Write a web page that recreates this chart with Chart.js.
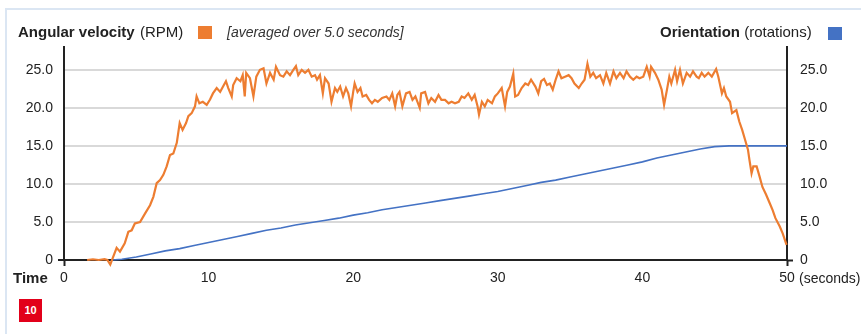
<!DOCTYPE html>
<html>
<head>
<meta charset="utf-8">
<script src="https://cdn.jsdelivr.net/npm/chart.js@4.4.1/dist/chart.umd.min.js"></script>
<style>
  body { margin: 0; background: #fff; font-family: "Liberation Sans", Arial, sans-serif; color: #222; }
  #wrap { position: relative; width: 861px; height: 334px; overflow: hidden; }
  #card { position: absolute; left: 5px; top: 8px; right: -4px; bottom: -4px; border-top: 2px solid #dbe6f3; border-left: 2px solid #dbe6f3; }
  canvas { position: absolute; left: 0; top: 0; }
  .t { position: absolute; white-space: pre; line-height: 15px; font-size: 15px; }
  .b { font-weight: bold; }
  .sq { position: absolute; width: 14px; height: 13px; }
  #badge { position: absolute; left: 19px; top: 299px; width: 23px; height: 23px; background: #e2001a; color: #fff; font-weight: bold; font-size: 11px; line-height: 23px; text-align: center; }
</style>
</head>
<body>
<div id="wrap">
  <div id="card"></div>
  <canvas id="chart" width="861" height="334"></canvas>
  <span class="t b" style="left:18px; top:24px;">Angular velocity</span>
  <span class="t" style="left:140px; top:24px;">(RPM)</span>
  <div class="sq" style="left:198px; top:26px; background:#ed7d31;"></div>
  <span class="t" style="left:227px; top:25px; font-size:14px; line-height:14px; font-style:italic; color:#333;">[averaged over 5.0 seconds]</span>
  <span class="t" style="left:660px; top:24px;"><span class="b">Orientation</span> (rotations)</span>
  <div class="sq" style="left:828px; top:27px; background:#4472c4;"></div>
  <span class="t b" style="left:13px; top:270px;">Time</span>
  <span class="t" style="left:799px; top:271px; font-size:14px; line-height:14px;">(seconds)</span>
  <div id="badge">10</div>
</div>
<script>
// Angular velocity (RPM), averaged over 5 s
const rpmTimes = [1.6, 2.0, 2.4, 2.8, 3.0, 3.2, 3.4, 3.64, 3.87, 4.2, 4.45, 4.68, 4.9, 5.26, 5.6, 5.95, 6.18, 6.41, 6.64, 6.87,
  7.1, 7.33, 7.56, 7.8, 8.0, 8.2, 8.44, 8.6, 8.83, 9.06, 9.17, 9.36, 9.6, 9.87, 10.1, 10.3, 10.56, 10.8, 11.0, 11.2,
  11.36, 11.6, 11.7, 11.94, 12.2, 12.36, 12.5, 12.6, 12.86, 13.1, 13.3, 13.55, 13.8, 14.0, 14.25, 14.5, 14.66, 14.94, 15.17, 15.4,
  15.63, 15.86, 16.04, 16.2, 16.44, 16.67, 16.9, 17.13, 17.36, 17.5, 17.7, 17.9, 18.05, 18.3, 18.5, 18.74, 18.9, 19.1, 19.3, 19.5,
  19.66, 19.85, 20.0, 20.1, 20.3, 20.5, 20.65, 20.9, 21.1, 21.3, 21.5, 21.7, 22.0, 22.3, 22.5, 22.7, 22.9, 23.05, 23.2, 23.4,
  23.65, 23.9, 24.1, 24.3, 24.6, 24.7, 24.97, 25.2, 25.4, 25.66, 25.9, 26.1, 26.35, 26.6, 26.8, 27.04, 27.3, 27.5, 27.7, 27.96,
  28.2, 28.4, 28.6, 28.7, 28.9, 29.1, 29.3, 29.6, 29.8, 30.0, 30.27, 30.5, 30.65, 30.84, 31.07, 31.2, 31.4, 31.65, 31.9, 32.1,
  32.3, 32.6, 32.8, 33.0, 33.2, 33.4, 33.6, 33.8, 34.0, 34.2, 34.4, 34.65, 34.9, 35.1, 35.3, 35.6, 35.8, 36.0, 36.2, 36.4,
  36.6, 36.8, 37.07, 37.3, 37.5, 37.76, 38.0, 38.2, 38.45, 38.7, 38.9, 39.14, 39.37, 39.6, 39.8, 40.06, 40.3, 40.5, 40.6, 40.87,
  41.1, 41.33, 41.5, 41.7, 41.86, 42.0, 42.26, 42.4, 42.6, 42.8, 43.06, 43.3, 43.5, 43.75, 43.9, 44.1, 44.3, 44.56, 44.8, 45.1,
  45.25, 45.5, 45.64, 45.8, 46.06, 46.2, 46.5, 46.7, 46.9, 47.1, 47.3, 47.4, 47.55, 47.67, 47.9, 48.1, 48.3, 48.55, 48.8, 49.0,
  49.2, 49.5, 49.7, 49.97];
const rpmValues = [0.0, 0.1, 0.0, 0.1, 0.0, -0.6, 0.4, 1.6, 1.1, 2.2, 3.7, 3.9, 4.8, 5.0, 6.1, 7.2, 8.3, 10.1, 10.5, 11.2,
  12.3, 13.8, 14.0, 15.4, 18.0, 17.1, 18.0, 18.9, 19.3, 20.2, 21.5, 20.6, 20.8, 20.4, 21.1, 21.9, 22.6, 22.1, 22.8, 23.5,
  22.6, 21.5, 23.0, 23.9, 23.5, 24.3, 21.5, 24.6, 23.9, 21.5, 24.1, 25.0, 25.2, 23.2, 24.6, 23.7, 25.4, 24.3, 24.1, 24.8,
  24.3, 25.0, 25.5, 24.3, 25.0, 24.6, 25.0, 24.1, 24.3, 23.7, 24.3, 21.9, 23.9, 23.2, 20.8, 22.6, 22.1, 22.8, 21.5, 22.6,
  21.9, 20.2, 22.1, 23.2, 22.1, 22.6, 21.5, 21.7, 21.05, 20.6, 21.05, 20.8, 21.3, 21.5, 21.05, 21.9, 20.2, 21.7, 22.1, 20.2,
  21.9, 22.1, 21.05, 21.5, 20.0, 21.9, 22.1, 20.6, 21.3, 20.8, 21.7, 21.05, 21.05, 20.6, 20.8, 20.6, 20.8, 21.5, 21.3, 21.9,
  21.05, 21.7, 20.2, 19.1, 20.8, 20.2, 21.05, 20.6, 21.5, 21.9, 22.6, 20.2, 22.1, 22.8, 24.5, 21.5, 21.7, 22.6, 23.2, 23.0,
  23.7, 22.8, 21.9, 23.5, 23.8, 23.0, 23.2, 22.4, 23.7, 24.8, 23.9, 24.1, 24.3, 23.9, 23.2, 22.6, 23.2, 23.7, 25.8, 24.1,
  24.6, 23.9, 24.3, 23.2, 24.6, 23.2, 24.8, 23.9, 24.6, 23.9, 24.8, 24.1, 23.7, 24.1, 23.9, 24.1, 25.4, 24.1, 25.4, 24.6,
  23.7, 22.4, 20.4, 22.4, 24.1, 23.2, 25.0, 23.5, 25.0, 23.2, 24.6, 24.1, 24.8, 24.1, 23.9, 24.6, 24.1, 24.6, 24.1, 25.1,
  24.1, 21.9, 22.6, 21.5, 20.8, 19.3, 19.7, 18.2, 17.1, 15.8, 14.5, 13.2, 11.4, 12.3, 12.3, 11.0, 9.6, 8.6, 7.5, 6.6,
  5.5, 4.4, 3.5, 2.0];

// Orientation (rotations)
const rotTimes = [3.3, 4, 5, 6, 7, 8, 9, 10, 11, 12, 13, 14, 15, 16, 17, 18, 19, 20, 21, 22, 23, 24, 25, 26, 27,
  28, 29, 30, 31, 32, 33, 34, 35, 36, 37, 38, 39, 40, 41, 42, 43, 44, 45, 46, 47, 48, 49, 50];
const rotValues = [0.0, 0.1, 0.4, 0.8, 1.2, 1.5, 1.9, 2.3, 2.7, 3.1, 3.5, 3.9, 4.2, 4.6, 4.9, 5.2, 5.5, 5.9, 6.2, 6.6, 6.9, 7.2, 7.5, 7.8, 8.1,
  8.4, 8.7, 9.0, 9.4, 9.8, 10.2, 10.5, 10.9, 11.3, 11.7, 12.1, 12.5, 12.9, 13.4, 13.8, 14.2, 14.6, 14.9, 15.0, 15.0, 15.0, 15.0, 15.0];

const xTicks = [0, 10, 20, 30, 40, 50];
const yTicks = [0, 5, 10, 15, 20, 25];
const yTickLabels = ['0', '5.0', '10.0', '15.0', '20.0', '25.0'];

const axisColor = '#222';
const gridColor = '#d9d9d9';

Chart.defaults.font.family = '"Liberation Sans", Arial, sans-serif';
Chart.defaults.font.size = 14;
Chart.defaults.color = '#222';

function setTicks(list) {
  return scale => { scale.ticks = list.map(v => ({ value: v })); };
}
function endTick(ctx) {
  const v = ctx.tick ? ctx.tick.value : null;
  return (v === 0 || v === 50) ? axisColor : 'rgba(0,0,0,0)';
}

const ctx = document.getElementById('chart').getContext('2d');
new Chart(ctx, {
  type: 'line',
  data: {
    datasets: [
      {
        label: 'Angular velocity (RPM)',
        data: rpmTimes.map((t, i) => ({ x: t, y: rpmValues[i] })),
        borderColor: '#ed7d31',
        borderWidth: 2.2,
        pointRadius: 0,
        tension: 0,
        clip: false,
        yAxisID: 'y'
      },
      {
        label: 'Orientation (rotations)',
        data: rotTimes.map((t, i) => ({ x: t, y: rotValues[i] })),
        borderColor: '#4472c4',
        borderWidth: 1.6,
        pointRadius: 0,
        tension: 0,
        clip: false,
        yAxisID: 'y1'
      }
    ]
  },
  options: {
    responsive: false,
    animation: false,
    layout: { padding: { top: 47, left: 0, right: 0, bottom: 0 } },
    plugins: {
      legend: { display: false },
      tooltip: { enabled: false }
    },
    scales: {
      x: {
        type: 'linear',
        min: 0,
        max: 50,
        afterBuildTicks: setTicks(xTicks),
        afterFit: s => { s.height = 74; },
        ticks: { padding: 4, maxRotation: 0 },
        grid: { drawOnChartArea: false, drawTicks: true, tickLength: 6, tickColor: endTick, tickWidth: 2 },
        border: { display: true, color: axisColor, width: 2 }
      },
      y: {
        position: 'left',
        min: 0,
        max: 28,
        afterBuildTicks: setTicks(yTicks),
        afterFit: s => { s.width = 64; },
        ticks: { padding: 5, callback: (v) => yTickLabels[yTicks.indexOf(v)] },
        grid: {
          color: c => (c.tick && c.tick.value === 0) ? 'rgba(0,0,0,0)' : gridColor,
          lineWidth: 2,
          drawTicks: true,
          tickLength: 6,
          tickColor: endTick,
          tickWidth: 2
        },
        border: { display: true, color: axisColor, width: 2 }
      },
      y1: {
        position: 'right',
        min: 0,
        max: 28,
        afterBuildTicks: setTicks(yTicks),
        afterFit: s => { s.width = 74; },
        ticks: { padding: 7, callback: (v) => yTickLabels[yTicks.indexOf(v)] },
        grid: { drawOnChartArea: false, drawTicks: true, tickLength: 6, tickColor: endTick, tickWidth: 2 },
        border: { display: true, color: axisColor, width: 2 }
      }
    }
  }
});
</script>
</body>
</html>
